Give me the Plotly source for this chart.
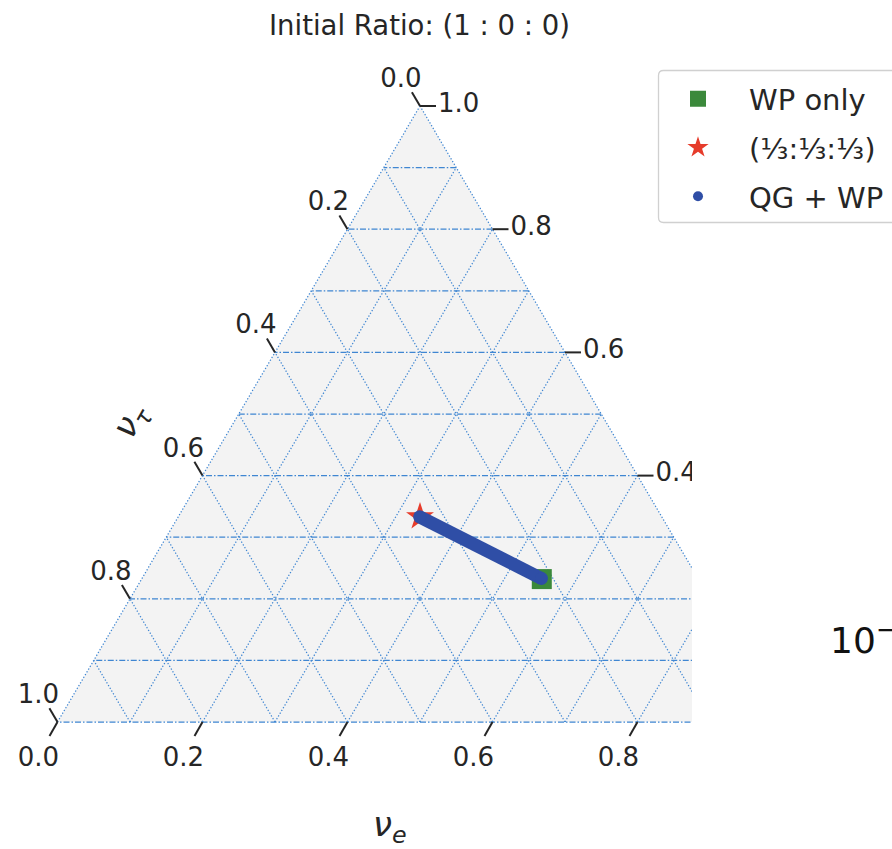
import plotly.graph_objects as go

# ---------------- data ----------------
# flavour ratios are given as (nu_e, nu_mu, nu_tau)
grid_values = [0.0, 0.1, 0.2, 0.3, 0.4, 0.5, 0.6, 0.7, 0.8, 0.9]
tick_values = [0.0, 0.2, 0.4, 0.6, 0.8, 1.0]
tick_labels = ["0.0", "0.2", "0.4", "0.6", "0.8", "1.0"]

wp_only = [0.552, 0.232, 0.216]
democratic = [1 / 3, 1 / 3, 1 / 3]

qg_wp_e = [0.333, 0.551]
qg_wp_mu = [0.333, 0.233]
qg_wp_tau = [0.334, 0.216]

title_text = "Initial Ratio: (1 : 0 : 0)"

# ---------------- layout geometry ----------------
FIG_W, FIG_H = 892, 849
X0, SIDE = 57.5, 725.0      # left corner and side length (px)
Y0, HEIGHT = 722.0, 616.0   # base line and triangle height (px)
CLIP = 692.0                # right edge of the drawing panel (px)

FONT = "DejaVu Sans"
INK = "#262626"
GRID = "#3f86d2"


def cart(e, mu, tau):
    """Ternary (e, mu, tau) -> cartesian (x, y) with unit side."""
    s = e + mu + tau
    return (e + mu / 2) / s, mu / s


def shift(pt, dx_px, dy_px):
    """Offset a point by a screen displacement given in pixels."""
    return pt[0] + dx_px / SIDE, pt[1] - dy_px / HEIGHT


def seg_trace(segments, color, width, dash):
    xs, ys = [], []
    for (a, b) in segments:
        xs += [a[0], b[0], None]
        ys += [a[1], b[1], None]
    return go.Scatter(x=xs, y=ys, mode="lines", hoverinfo="skip", showlegend=False,
                      line=dict(color=color, width=width, dash=dash))


fig = go.Figure()

# triangle background
corners = [cart(1, 0, 0), cart(0, 1, 0), cart(0, 0, 1), cart(1, 0, 0)]
fig.add_trace(go.Scatter(x=[c[0] for c in corners], y=[c[1] for c in corners],
                         mode="lines", fill="toself", fillcolor="#f3f3f3",
                         line=dict(width=0), hoverinfo="skip", showlegend=False))

# grid: nu_mu lines (horizontal, dash-dot), nu_e / nu_tau lines (dotted)
horiz, diag = [], []
for v in grid_values:
    horiz.append((cart(1 - v, v, 0), cart(0, v, 1 - v)))
    diag.append((cart(v, 0, 1 - v), cart(v, 1 - v, 0)))
    diag.append((cart(1 - v, 0, v), cart(0, 1 - v, v)))
fig.add_trace(seg_trace(diag, GRID, 1.25, "1.3px,1.9px"))
fig.add_trace(seg_trace(horiz, GRID, 1.25, "6px,2px,1.5px,2px"))

# axis ticks and tick labels
tick_segs = []
bx, by, lx, ly, rx, ry = [], [], [], [], [], []
for v in tick_values:
    b = cart(v, 0, 1 - v)            # bottom: nu_e
    tick_segs.append((b, shift(b, -8, 13.9)))
    p = shift(b, -19, 37)
    bx.append(p[0]); by.append(p[1])

    l = cart(0, 1 - v, v)            # left: nu_tau
    tick_segs.append((l, shift(l, -8.1, -13.8)))
    p = shift(l, -19, -25.5)
    lx.append(p[0]); ly.append(p[1])

    r = cart(1 - v, v, 0)            # right: nu_mu
    tick_segs.append((r, shift(r, 16, 0)))
    p = shift(r, 18, -1)
    rx.append(p[0]); ry.append(p[1])

fig.add_trace(seg_trace(tick_segs, INK, 2, "solid"))
tfont = dict(family=FONT, size=26, color=INK)
for xs, ys, pos in [(bx, by, "middle center"), (lx, ly, "middle center"),
                    (rx, ry, "middle right")]:
    fig.add_trace(go.Scatter(x=xs, y=ys, mode="text", text=tick_labels,
                             textposition=pos, textfont=tfont, cliponaxis=True,
                             hoverinfo="skip", showlegend=False))

# data series
wx, wy = cart(*wp_only)
fig.add_trace(go.Scatter(x=[wx], y=[wy], mode="markers", name="WP only",
                         legendgroup="wp",
                         marker=dict(symbol="square", size=20, color="#3b893b")))
dx, dy = cart(*democratic)
fig.add_trace(go.Scatter(x=[dx], y=[dy], mode="markers",
                         name="(⅓:⅓:⅓)", legendgroup="eq",
                         marker=dict(symbol="star", size=21, color="#e63c2b")))

qx, qy = [], []
for e, mu, tau in zip(qg_wp_e, qg_wp_mu, qg_wp_tau):
    x, y = cart(e, mu, tau)
    qx.append(x); qy.append(y)
fig.add_trace(go.Scatter(x=qx, y=qy, mode="lines+markers", name="QG + WP",
                         legendgroup="qg", showlegend=False,
                         line=dict(color="#2f4ea6", width=13),
                         marker=dict(size=13, color="#2f4ea6")))
fig.add_trace(go.Scatter(x=[None], y=[None], mode="markers", name="QG + WP",
                         legendgroup="qg",
                         marker=dict(size=10, color="#2f4ea6")))


# legend frame (rounded box)
def px_path(x0, y0, x1, y1, r):
    def P(x, y):
        return f"{x / FIG_W:.5f},{1 - y / FIG_H:.5f}"
    return (f"M {P(x0 + r, y0)} L {P(x1 - r, y0)} Q {P(x1, y0)} {P(x1, y0 + r)} "
            f"L {P(x1, y1 - r)} Q {P(x1, y1)} {P(x1 - r, y1)} L {P(x0 + r, y1)} "
            f"Q {P(x0, y1)} {P(x0, y1 - r)} L {P(x0, y0 + r)} Q {P(x0, y0)} {P(x0 + r, y0)} Z")


fig.add_shape(type="path", xref="paper", yref="paper", layer="above",
              path=px_path(658.5, 70.5, 905, 222.5, 5),
              line=dict(color="#d0d0d0", width=1.3), fillcolor="white")

annotations = [
    dict(text=title_text, x=419 / FIG_W, y=1 - 25 / FIG_H, xanchor="center",
         yanchor="middle", font=dict(family=FONT, size=27.5, color=INK)),
    dict(text="<i>ν</i><sub><i>e</i></sub>", x=390 / FIG_W, y=1 - 826 / FIG_H,
         xanchor="center", yanchor="middle", font=dict(family=FONT, size=34, color=INK)),
    dict(text="<i>ν</i><sub><i>τ</i></sub>", x=131 / FIG_W, y=1 - 421 / FIG_H,
         xanchor="center", yanchor="middle", textangle=-60,
         font=dict(family=FONT, size=34, color=INK)),
    dict(text="10<sup>−</sup>", x=828 / FIG_W, y=1 - 638 / FIG_H, xanchor="left",
         yanchor="middle", font=dict(family=FONT, size=36, color="#111111")),
    dict(text="10", x=828 / FIG_W, y=1 - 862 / FIG_H, xanchor="left",
         yanchor="middle", font=dict(family=FONT, size=36, color="#111111")),
]
for a in annotations:
    a.update(xref="paper", yref="paper", showarrow=False)

fig.update_layout(
    width=FIG_W, height=FIG_H,
    margin=dict(l=0, r=0, t=0, b=0, pad=0, autoexpand=False),
    paper_bgcolor="white", plot_bgcolor="white",
    xaxis=dict(domain=[0, CLIP / FIG_W], range=[-X0 / SIDE, (CLIP - X0) / SIDE],
               visible=False, fixedrange=True),
    yaxis=dict(domain=[0, 1], range=[(Y0 - FIG_H) / HEIGHT, Y0 / HEIGHT],
               visible=False, fixedrange=True),
    annotations=annotations,
    showlegend=True,
    legend=dict(x=647 / FIG_W, xanchor="left", y=1 - 73.5 / FIG_H, yanchor="top",
                bgcolor="rgba(0,0,0,0)", borderwidth=0, itemwidth=92,
                traceorder="grouped", tracegroupgap=8,
                font=dict(family=FONT, size=29, color=INK)),
)

fig.write_html("out.html")
